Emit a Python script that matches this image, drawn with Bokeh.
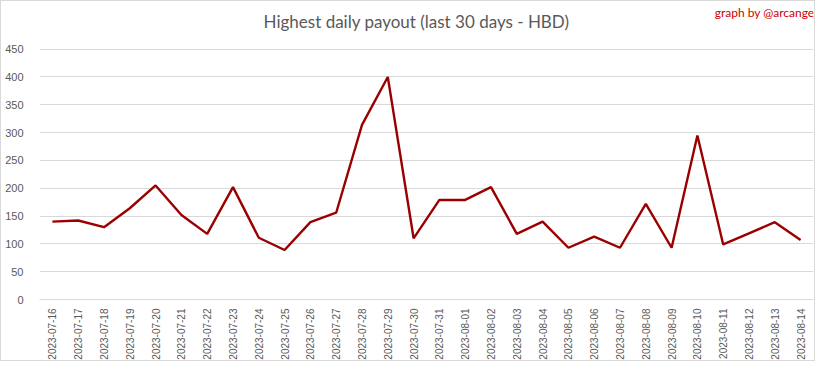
from math import pi
from bokeh.plotting import figure
from bokeh.models import Range1d, FactorRange, FixedTicker, Label, ColumnDataSource
from bokeh.embed import file_html
from bokeh.resources import INLINE

title_text = "Highest daily payout (last 30 days - HBD)"
credit_text = "graph by @arcange"

dates = [
    "2023-07-16", "2023-07-17", "2023-07-18", "2023-07-19", "2023-07-20",
    "2023-07-21", "2023-07-22", "2023-07-23", "2023-07-24", "2023-07-25",
    "2023-07-26", "2023-07-27", "2023-07-28", "2023-07-29", "2023-07-30",
    "2023-07-31", "2023-08-01", "2023-08-02", "2023-08-03", "2023-08-04",
    "2023-08-05", "2023-08-06", "2023-08-07", "2023-08-08", "2023-08-09",
    "2023-08-10", "2023-08-11", "2023-08-12", "2023-08-13", "2023-08-14",
]
payout = [
    140, 142, 130, 164, 205,
    152, 118, 202, 111, 89,
    139, 156, 314, 400, 110,
    179, 179, 202, 118, 140,
    93, 113, 93, 172, 93,
    295, 99, 119, 139, 107,
]
y_ticks = [0, 50, 100, 150, 200, 250, 300, 350, 400, 450]
y_max = 450

# layout (pixels inside the figure)
W, H = 815, 361
LEFT, RIGHT = 38, 3
FRAME_H = 300          # frame spans from top of figure down to the zero line
TOP_GRID = 48          # pixel position of the top gridline within the frame
BOTTOM = H - FRAME_H
y_end = y_max * FRAME_H / (FRAME_H - TOP_GRID)

src = ColumnDataSource(data=dict(date=dates, payout=payout))

p = figure(
    width=W, height=H,
    x_range=FactorRange(*dates),
    y_range=Range1d(0, y_end),
    output_backend="svg", toolbar_location=None,
    min_border_left=LEFT, min_border_right=RIGHT, min_border_top=0, min_border_bottom=BOTTOM,
)
p.styles = {"border": "1px solid #d9d9d9"}
p.outline_line_color = None
p.background_fill_color = "white"
p.border_fill_color = "white"

p.line("date", "payout", source=src, line_color="#9a0000", line_width=2.4)

# grid
p.xgrid.grid_line_color = None
p.ygrid.grid_line_color = "#d9d9d9"
p.ygrid.grid_line_width = 1
p.yaxis.ticker = FixedTicker(ticks=y_ticks)

# axes
for ax in (p.xaxis, p.yaxis):
    ax.major_tick_line_color = None
    ax.minor_tick_line_color = None
    ax.major_label_text_color = "#595959"
    ax.major_label_text_font = "Liberation Sans"
p.yaxis.major_label_text_font_size = "11px"
p.xaxis.major_label_text_font_size = "10px"
p.yaxis.axis_line_color = None
p.yaxis.major_label_standoff = 10
p.xaxis.axis_line_color = "#d9d9d9"
p.xaxis.major_label_orientation = pi / 2
p.xaxis.major_label_standoff = 3

# title and credit as labels (frame-relative screen units, y from frame bottom)
frame_w = W - LEFT - RIGHT
p.add_layout(Label(
    x=377, y=FRAME_H - 22, x_units="screen", y_units="screen",
    text=title_text, text_align="center", text_baseline="middle",
    text_font="Lato", text_font_size="17px", text_color="#595959",
))
p.add_layout(Label(
    x=frame_w + 1, y=FRAME_H - 13, x_units="screen", y_units="screen",
    text=credit_text, text_align="right", text_baseline="middle",
    text_font="Lato", text_font_size="12px", text_color="#cc0000",
))

open("out.html", "w").write(file_html(p, INLINE))
